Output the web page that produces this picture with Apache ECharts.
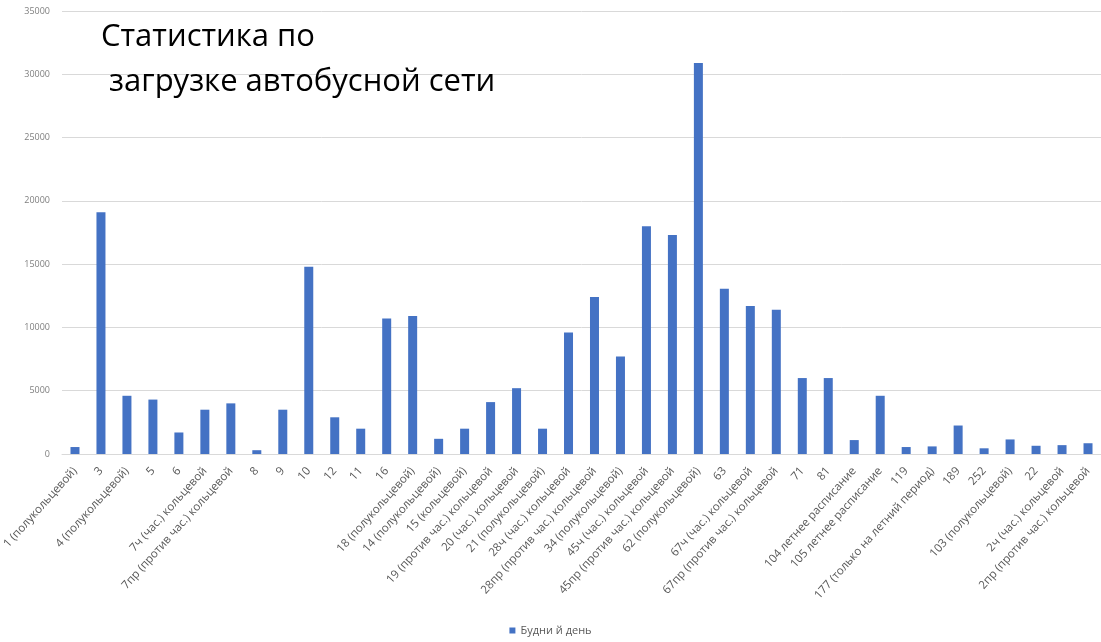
<!DOCTYPE html>
<html>
<head>
<meta charset="utf-8">
<script src="https://cdn.jsdelivr.net/npm/echarts@6/dist/echarts.min.js"></script>
<style>html,body{margin:0;padding:0;background:#fff;}#c{width:1101px;height:642px;}</style>
</head>
<body>
<div id="c"></div>
<script>
var categories = ["1 (полукольцевой)","3","4 (полукольцевой)","5","6","7ч (час.) кольцевой","7пр (против час.) кольцевой","8","9","10","12","11","16","18 (полукольцевой)","14 (полукольцевой)","15 (кольцевой)","19 (против час.) кольцевой","20 (час.) кольцевой","21 (полукольцевой)","28ч (час.) кольцевой","28пр (против час.) кольцевой","34 (полукольцевой)","45ч (час.) кольцевой","45пр (против час.) кольцевой","62 (полукольцевой)","63","67ч (час.) кольцевой","67пр (против час.) кольцевой","71","81","104 летнее расписание","105 летнее расписание","119","177 (только на летний период)","189","252","103 (полукольцевой)","22","2ч (час.) кольцевой","2пр (против час.) кольцевой"];
var weekdayValues = [550,19100,4600,4300,1700,3500,4000,300,3500,14800,2900,2000,10700,10900,1200,2000,4100,5200,2000,9600,12400,7700,18000,17300,30900,13050,11700,11400,6000,6000,1100,4600,550,600,2250,450,1150,650,700,850];
var seriesName = "Будни й день";
var titleLines = ["Статистика по", " загрузке автобусной сети"];

var chart = echarts.init(document.getElementById('c'));
chart.setOption({
  animation: false,
  title: {
    text: titleLines.join("\n"),
    left: 96, top: 10,
    textStyle: {fontFamily: "Open Sans", fontSize: 31, fontWeight: "normal", color: "#000", lineHeight: 45}
  },
  legend: {
    bottom: 1, left: "center",
    itemWidth: 6, itemHeight: 6, icon: "rect", itemGap: 10,
    textStyle: {fontSize: 11, color: "#595959", fontFamily: "Open Sans"},
    data: [seriesName]
  },
  grid: {left: 62, right: 0, top: 11, bottom: 188, containLabel: false, outerBoundsMode: 'none'},
  xAxis: {
    type: "category",
    data: categories,
    axisTick: {show: false},
    axisLine: {lineStyle: {color: "#d9d9d9"}},
    axisLabel: {interval: 0, rotate: 48, fontSize: 11.5, color: "#595959", fontFamily: "Open Sans", margin: 15}
  },
  yAxis: {
    type: "value",
    min: 0, max: 35000, interval: 5000,
    axisLine: {show: false},
    axisTick: {show: false},
    splitLine: {lineStyle: {color: "#d9d9d9"}},
    axisLabel: {fontSize: 9, color: "#7f7f7f", fontFamily: "Open Sans", margin: 12, formatter: function (v) { return String(v); }}
  },
  series: [{
    name: seriesName,
    type: "bar",
    data: weekdayValues,
    barWidth: 9,
    itemStyle: {color: "#4472C4"}
  }]
});
</script>
</body>
</html>
